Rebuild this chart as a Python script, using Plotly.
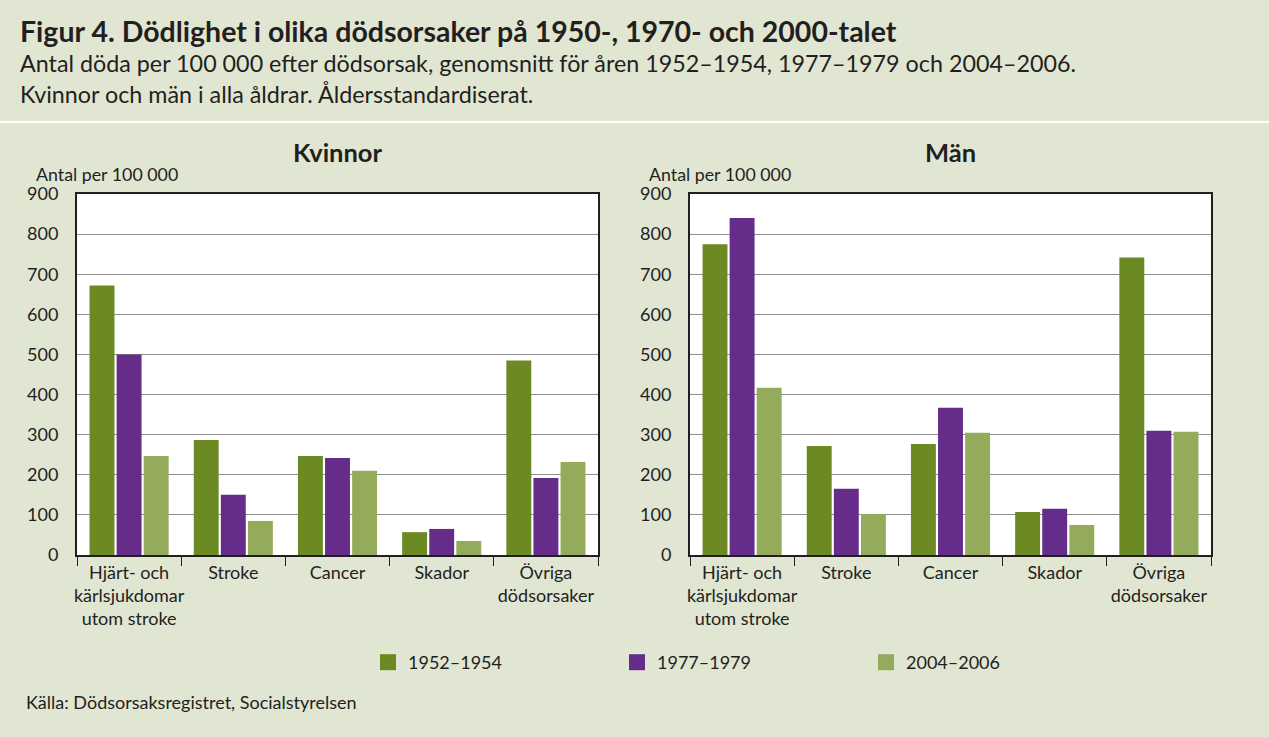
import plotly.graph_objects as go

W, H = 1269, 737

categories = ["Hjärt- och<br>kärlsjukdomar<br>utom stroke", "Stroke", "Cancer", "Skador", "Övriga<br>dödsorsaker"]
periods = ["1952–1954", "1977–1979", "2004–2006"]
colors = ["#6b8a23", "#652c8a", "#95ab5c"]

kvinnor_1952 = [672, 287, 247, 57, 485]
kvinnor_1977 = [500, 150, 242, 65, 192]
kvinnor_2004 = [247, 85, 210, 35, 232]

man_1952 = [775, 272, 277, 107, 742]
man_1977 = [840, 165, 367, 115, 310]
man_2004 = [417, 102, 305, 75, 307]

y_ticks = [0, 100, 200, 300, 400, 500, 600, 700, 800, 900]

BG = "#e1e6d3"
FONT = "Lato"
DARK = "#231f20"

fig = go.Figure()

kv = [kvinnor_1952, kvinnor_1977, kvinnor_2004]
mn = [man_1952, man_1977, man_2004]
for i, p in enumerate(periods):
    fig.add_trace(go.Bar(x=categories, y=kv[i], name=p, marker=dict(color=colors[i], line=dict(width=0)),
                         xaxis="x", yaxis="y", showlegend=False))
for i, p in enumerate(periods):
    fig.add_trace(go.Bar(x=categories, y=mn[i], name=p, marker=dict(color=colors[i], line=dict(width=0)),
                         xaxis="x2", yaxis="y2", showlegend=False))
# legend entries
for i, p in enumerate(periods):
    fig.add_trace(go.Scatter(x=[None], y=[None], mode="markers", name=p,
                             marker=dict(symbol="square", size=22, color=colors[i]),
                             xaxis="x", yaxis="y", showlegend=True))

def px(x):
    return x / W

def py(y):
    return 1 - y / H

ydom = [py(555), py(194)]
xdom1 = [px(77), px(598)]
xdom2 = [px(690), px(1211)]

xaxis_common = dict(
    type="category", showline=True, mirror=True, linecolor=DARK, linewidth=2,
    ticks="outside", tickson="boundaries", ticklen=9, tickcolor=DARK, tickwidth=1,
    tickangle=0, showgrid=False, tickfont=dict(family=FONT, size=18, color=DARK), fixedrange=True,
    automargin=False,
)
yaxis_common = dict(
    range=[0, 900], tickvals=y_ticks, showline=True, mirror=True, linecolor=DARK, linewidth=2,
    showgrid=True, gridcolor="#8f8f8f", gridwidth=1, ticks="", ticklabelstandoff=13,
    tickfont=dict(family=FONT, size=18, color=DARK), zeroline=False, fixedrange=True,
    automargin=False,
)

fig.update_layout(
    width=W, height=H,
    margin=dict(l=0, r=0, t=0, b=0, pad=0, autoexpand=False),
    paper_bgcolor=BG, plot_bgcolor="white",
    barmode="group", bargap=0.22, bargroupgap=0.08,
    font=dict(family=FONT, color=DARK),
    xaxis=dict(domain=xdom1, anchor="y", **xaxis_common),
    yaxis=dict(domain=ydom, anchor="x", **yaxis_common),
    xaxis2=dict(domain=xdom2, anchor="y2", **xaxis_common),
    yaxis2=dict(domain=ydom, anchor="x2", **yaxis_common),
    legend=dict(orientation="h", x=px(368), y=py(644), xanchor="left", yanchor="top",
                bgcolor="rgba(0,0,0,0)", font=dict(family=FONT, size=18, color=DARK),
                entrywidth=204, entrywidthmode="pixels", itemsizing="trace"),
    shapes=[dict(type="line", xref="paper", yref="paper", x0=0, x1=1, y0=py(122), y1=py(122),
                 line=dict(color="white", width=2))],
)

annotations = [
    dict(text="<b>Figur 4. Dödlighet i olika dödsorsaker på 1950-, 1970- och 2000-talet</b>",
         x=px(18), y=py(31), font=dict(size=28.5)),
    dict(text="Antal döda per 100 000 efter dödsorsak, genomsnitt för åren 1952–1954, 1977–1979 och 2004–2006.",
         x=px(18), y=py(63), font=dict(size=23.3)),
    dict(text="Kvinnor och män i alla åldrar. Åldersstandardiserat.",
         x=px(18), y=py(94), font=dict(size=23.3)),
    dict(text="Antal per 100 000", x=px(34), y=py(174), font=dict(size=17.8)),
    dict(text="Antal per 100 000", x=px(647), y=py(174), font=dict(size=17.8)),
    dict(text="Källa: Dödsorsaksregistret, Socialstyrelsen", x=px(24), y=py(702), font=dict(size=18)),
]
for a in annotations:
    a.update(xref="paper", yref="paper", xanchor="left", yanchor="middle", showarrow=False)
    a["font"].update(family=FONT, color=DARK)

for name, dom in (("Kvinnor", xdom1), ("Män", xdom2)):
    annotations.append(dict(text=f"<b>{name}</b>", xref="paper", yref="paper",
                            x=(dom[0] + dom[1]) / 2, y=py(152), xanchor="center", yanchor="middle",
                            showarrow=False, font=dict(family=FONT, size=25.5, color=DARK)))

fig.update_layout(annotations=annotations)

fig.write_html(
    "out.html",
    config={"displayModeBar": False},
    post_script="document.body.style.margin='0';document.body.style.overflow='hidden';",
)
